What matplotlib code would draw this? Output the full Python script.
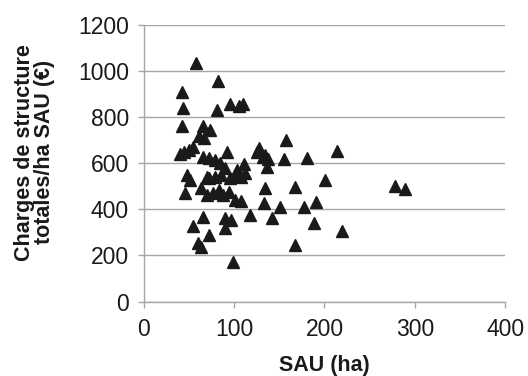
import matplotlib.pyplot as plt

# --- DONNEES ---
sau_ha = [58, 82, 43, 44, 81, 96, 106, 110,
          43, 66, 73, 61, 67,
          40, 45, 50, 55, 66, 72, 79, 92, 85, 90, 111, 103,
          128, 125, 132, 138, 136, 134, 158, 155, 181, 214,
          48, 51, 46, 70, 72, 79, 86, 96, 101, 108, 112,
          64, 70, 77, 83, 88, 94, 101, 108,
          134, 167, 201, 278, 289,
          133, 151, 177, 191, 118, 142, 188, 219, 167,
          66, 55, 90, 97, 90, 72, 60, 63, 99]
charges_ha = [1036, 956, 907, 838, 832, 856, 849, 856,
              761, 762, 742, 716, 708,
              640, 650, 657, 672, 628, 621, 614, 648, 600, 580, 595, 571,
              668, 650, 628, 620, 585, 636, 702, 617, 623, 652,
              549, 527, 472, 542, 535, 542, 548, 535, 549, 540, 556,
              491, 462, 470, 484, 462, 477, 440, 437,
              491, 496, 528, 501, 490,
              427, 411, 409, 433, 375, 361, 339, 306, 245,
              365, 328, 361, 354, 318, 289, 255, 238, 170]

x_ticks = [0, 100, 200, 300, 400]
y_ticks = [0, 200, 400, 600, 800, 1000, 1200]

plt.rcParams['font.family'] = ['Liberation Sans', 'DejaVu Sans']

fig = plt.figure(figsize=(5.28, 3.76), dpi=100)
ax = fig.add_axes([0.272, 0.198, 0.685, 0.736])

gris = '#a6a6a6'
noir = '#1a1a1a'
ax.plot(sau_ha, charges_ha, linestyle='none', marker='^', markersize=8,
        color=noir, zorder=3)

ax.set_xlim(0, 400)
ax.set_ylim(0, 1200)
ax.set_xticks(x_ticks)
ax.set_yticks(y_ticks)
ax.yaxis.grid(True, color=gris, linewidth=1.0)
ax.set_axisbelow(True)

for side in ['top', 'right']:
    ax.spines[side].set_visible(False)
for side in ['left', 'bottom']:
    ax.spines[side].set_color(gris)
    ax.spines[side].set_linewidth(1.0)

ax.tick_params(axis='both', colors=gris, direction='out', length=4.5, width=1,
               labelcolor=noir, labelsize=16.5)
ax.tick_params(axis='y', pad=6)
ax.tick_params(axis='x', pad=7)

ax.set_xlabel('SAU (ha)', fontsize=15.5, fontweight='bold', color=noir)
ax.xaxis.set_label_coords(0.5, -0.193)
ax.set_ylabel('Charges de structure\ntotales/ha SAU (€)', fontsize=15.5,
              fontweight='bold', color=noir, linespacing=0.92)
ax.yaxis.set_label_coords(-0.245, 0.54)

plt.savefig('out.png', dpi=100)
